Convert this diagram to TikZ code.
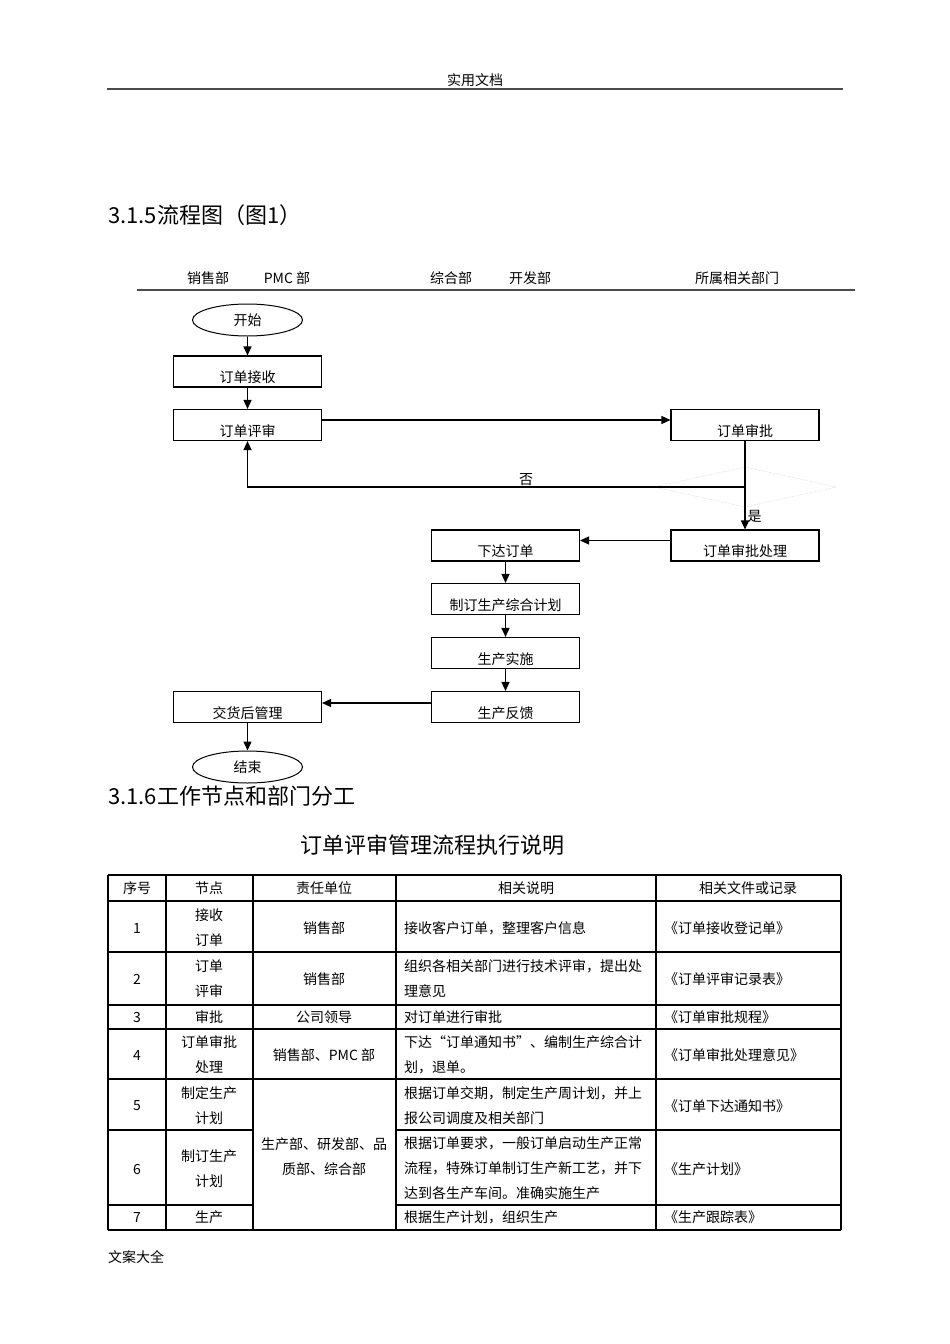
\documentclass[tikz,border=0pt]{standalone}
\usepackage{fontspec}
\setmainfont{Noto Sans CJK SC}
\usetikzlibrary{arrows.meta,positioning,shapes.geometric}

\tikzset{
  box/.style={draw, line width=1.1pt, minimum width=148pt, minimum height=31pt,
    inner sep=0pt, text height=24pt, text depth=2pt},
  term/.style={draw, ellipse, line width=1pt, minimum width=110pt, minimum height=32pt, inner sep=0pt},
  flow/.style={-{Triangle[length=9pt,width=8pt]}, line width=1.4pt},
  rule/.style={line width=1.8pt, black!70},
  grid/.style={line width=1.1pt},
  txt/.style={inner sep=0pt, font=\fontsize{14}{25}\selectfont, align=center},
  big/.style={inner sep=0pt, font=\fontsize{22}{26}\selectfont, anchor=west},
}

\begin{document}
\begin{tikzpicture}[x=1pt, y=-1pt, every node/.append style={font=\fontsize{14}{18}\selectfont}]
\useasboundingbox[fill=white] (0,0) rectangle (950,1344);

% page header
\node[txt] (head) at (475,80) {实用文档};
\draw[rule] (107,89) -- (843,89);
\node[big] (sec1) at (108,215) {3.1.5流程图（图1）};

% lanes
\node[txt] (lane1) at (208,278) {销售部};
\node[txt] (lane2) at (287,278) {PMC 部};
\node[txt] (lane3) at (451,278) {综合部};
\node[txt] (lane4) at (530,278) {开发部};
\node[txt] (lane5) at (737,278) {所属相关部门};
\draw[rule] (137,290) -- (855,290);

% flow chart
\node[term] (start) at (247.5,320) {开始};
\node[box] (recv) at (247.5,371.5) {订单接收};
\node[box] (review) at (247.5,425) {订单评审};
\node[box] (approve) at (745,425) {订单审批};
\node[diamond, draw=black!25, densely dotted, minimum width=183pt, minimum height=40pt, inner sep=0pt] (judge) at (745,487) {};
\node[box] (handle) at (745,545.5) {订单审批处理};
\node[box] (issue) at (505.5,545.5) {下达订单};
\node[box] (plan) at (505.5,599) {制订生产综合计划};
\node[box] (exec) at (505.5,653) {生产实施};
\node[box] (feedback) at (505.5,707) {生产反馈};
\node[box] (deliver) at (247.5,707) {交货后管理};
\node[term] (stop) at (247.5,767) {结束};

\draw[flow] (start) -- (recv);
\draw[flow] (recv) -- (review);
\draw[flow] ([yshift=5pt]review.east) -- ([yshift=5pt]approve.west);
\draw[flow] (approve) -- node[pos=0.85, right, inner sep=2pt] {是} (handle);
\draw[flow] (judge.center) -| node[pos=0.22, above, inner sep=1pt] {否} (review.south);
\draw[flow] ([yshift=5pt]handle.west) -- ([yshift=5pt]issue.east);
\draw[flow] (issue) -- (plan);
\draw[flow] (plan) -- (exec);
\draw[flow] (exec) -- (feedback);
\draw[flow] ([yshift=4pt]feedback.west) -- ([yshift=4pt]deliver.east);
\draw[flow] (deliver) -- (stop);

% section 3.1.6
\node[big] (sec2) at (108,796) {3.1.6工作节点和部门分工};
\node[big, anchor=center] (caption) at (432,845) {订单评审管理流程执行说明};

% table grid
\foreach \y in {875,901,952,1005,1029,1079,1230}
  \draw[grid] (108,\y) -- (841,\y);
\foreach \y in {1130,1205} {
  \draw[grid] (108,\y) -- (253,\y);
  \draw[grid] (396,\y) -- (841,\y);
}
\foreach \x in {108,166,253,396,656,841}
  \draw[grid] (\x,875) -- (\x,1230);

% table header
\node[txt] at (137,888) {序号};
\node[txt] at (209,888) {节点};
\node[txt] at (324,888) {责任单位};
\node[txt] at (526,888) {相关说明};
\node[txt] at (748,888) {相关文件或记录};

% rows
\node[txt] at (137,928) {1};
\node[txt] at (209,928) {接收\\订单};
\node[txt] at (324,928) {销售部};
\node[txt, anchor=west] at (404,928) {接收客户订单，整理客户信息};
\node[txt, anchor=west] at (664,928) {《订单接收登记单》};

\node[txt] at (137,979) {2};
\node[txt] at (209,979) {订单\\评审};
\node[txt] at (324,979) {销售部};
\node[txt, anchor=west, align=left] at (404,979) {组织各相关部门进行技术评审，提出处\\理意见};
\node[txt, anchor=west] at (664,979) {《订单评审记录表》};

\node[txt] at (137,1017) {3};
\node[txt] at (209,1017) {审批};
\node[txt] at (324,1017) {公司领导};
\node[txt, anchor=west] at (404,1017) {对订单进行审批};
\node[txt, anchor=west] at (664,1017) {《订单审批规程》};

\node[txt] at (137,1055) {4};
\node[txt] at (209,1055) {订单审批\\处理};
\node[txt] at (324,1055) {销售部、PMC 部};
\node[txt, anchor=west, align=left] at (404,1055) {下达“订单通知书”、编制生产综合计\\划，退单。};
\node[txt, anchor=west] at (664,1055) {《订单审批处理意见》};

\node[txt] at (137,1106) {5};
\node[txt] at (209,1106) {制定生产\\计划};
\node[txt, anchor=west, align=left] at (404,1106) {根据订单交期，制定生产周计划，并上\\报公司调度及相关部门};
\node[txt, anchor=west] at (664,1106) {《订单下达通知书》};

\node[txt] at (137,1169) {6};
\node[txt] at (209,1169) {制订生产\\计划};
\node[txt, anchor=west, align=left] at (404,1168) {根据订单要求，一般订单启动生产正常\\流程，特殊订单制订生产新工艺，并下\\达到各生产车间。准确实施生产};
\node[txt, anchor=west] at (664,1169) {《生产计划》};

\node[txt] at (137,1217) {7};
\node[txt] at (209,1217) {生产};
\node[txt, anchor=west] at (404,1217) {根据生产计划，组织生产};
\node[txt, anchor=west] at (664,1217) {《生产跟踪表》};

\node[txt] at (324,1157) {生产部、研发部、品\\质部、综合部};

% footer
\node[txt, anchor=west] (foot) at (108,1257) {文案大全};
\end{tikzpicture}
\end{document}
